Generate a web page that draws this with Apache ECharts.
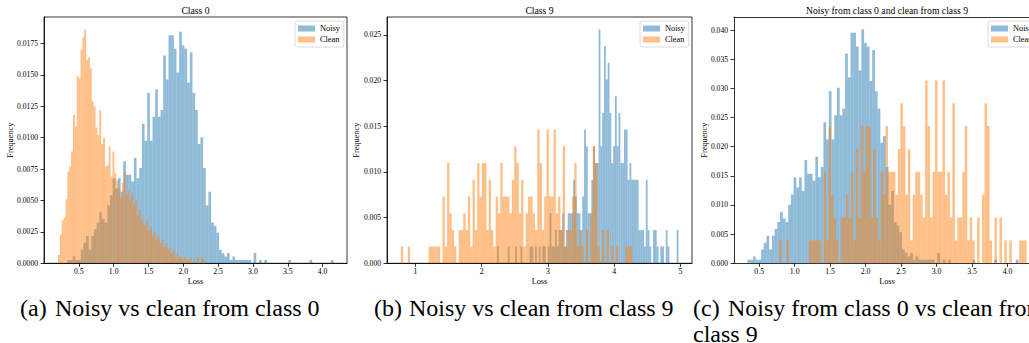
<!DOCTYPE html>
<html><head><meta charset="utf-8">
<script src="https://cdn.jsdelivr.net/npm/echarts@6/dist/echarts.min.js"></script>
<style>html,body{margin:0;padding:0;background:#fff}#c{width:1029px;height:343px}</style>
</head><body><div id="c"></div>
<script>
// ---------------- data ----------------
// Noisy samples of class 0 (counts per bin) – used in panels (a) and (c)
const noisy0Start = 0.336, noisy0Width = 0.0382;
const noisy0Counts = [1,1,2,1,1,4,6,8,4,8,
 10,12,15,13,12,17,20,25,22,25,
 21,30,26,26,24,31,25,28,41,36,
 50,36,43,51,43,45,61,54,67,67,
 63,56,68,64,63,53,62,50,45,35,
 37,28,17,21,12,11,9,4,3,2,
 3,1,2,1,1,1,1,1,1,0,
 3,0,1,0,1,0,0,0,0,0,
 0,0,0,1,0,0,0,0,0,0,
 0,1,0,0,0,0,0,0,0,1];
const noisy0WeightA = 0.000271, noisy0WeightC = 0.00059;

// Clean samples of class 0 (frequency per bin) – panel (a)
const clean0Start = 0.2, clean0Width = 0.027;
const clean0Freq = [0.00066,0.00225,0.0034,0.0036,0.0051,0.0073,0.0077,0.0089,0.0118,0.0109,
 0.0149,0.0147,0.0170,0.0180,0.0186,0.0162,0.0164,0.0155,0.0129,0.0125,
 0.0108,0.0102,0.0122,0.0095,0.0100,0.0077,0.0078,0.0093,0.0069,0.0089,
 0.0072,0.0066,0.0060,0.0052,0.0064,0.0072,0.0055,0.0058,0.0050,0.0056,
 0.0047,0.0050,0.0038,0.0043,0.0035,0.0032,0.0030,0.0034,0.0026,0.0029,
 0.0022,0.0025,0.0019,0.0022,0.0016,0.0019,0.0013,0.0016,0.0011,0.0013,
 0.0008,0.0011,0.0005,0.0008,0.0005,0.0005,0.0003,0.0005,0.0003,0.0003,
 0.0005,0,0.0003,0,0.0005,0,0.0005,0.0003];

// Noisy samples of class 9 (counts per bin) – panel (b)
const noisy9Start = 2.23, noisy9Width = 0.0274;
const noisy9Counts = [1,0,0,0,0,0,1,0,0,0,
 1,0,0,1,0,0,0,0,1,1,
 0,1,0,1,0,1,1,0,1,3,
 1,1,2,1,2,2,3,1,2,3,
 3,3,5,4,3,3,2,4,8,7,
 3,3,5,7,6,6,14,7,9,13,
 11,12,9,6,7,10,7,9,6,6,
 8,8,5,6,5,5,5,5,2,2,
 2,1,5,2,1,0,2,2,1,0,
 1,1,0,2,1,0,0,0,0,2];
const noisy9WeightB = 0.00183;

// Clean samples of class 9 (counts per bin) – panels (b) and (c)
const clean9Start = 0.78, clean9Width = 0.0349;
const clean9Counts = [1,0,0,1,0,0,0,0,0,0,
 0,0,1,1,1,1,1,0,4,1,
 6,3,2,1,0,2,2,3,2,4,
 1,5,2,6,4,6,6,2,5,2,
 1,4,3,6,4,4,4,3,5,7,
 6,3,5,1,3,4,4,3,2,8,
 6,2,4,8,4,4,8,3,4,2,
 7,1,2,2,4,6,1,2,1,0,
 2,0,3,7,6,1,0,2,0,2,
 0,1,0,1,0,0,0,1,1,1];
const clean9WeightB = 0.00183, clean9WeightC = 0.00392;

// ticks and texts
const xTicksA = [0.5,1.0,1.5,2.0,2.5,3.0,3.5,4.0];
const yTicksA = [0,0.0025,0.005,0.0075,0.01,0.0125,0.015,0.0175];
const xTicksB = [1,2,3,4,5];
const yTicksB = [0,0.005,0.01,0.015,0.02,0.025];
const xTicksC = [0.5,1.0,1.5,2.0,2.5,3.0,3.5,4.0];
const yTicksC = [0,0.005,0.01,0.015,0.02,0.025,0.03,0.035,0.04];
const titles = ['Class 0','Class 9','Noisy from class 0 and clean from class 9'];
const seriesNames = ['Noisy','Clean'];
const xName = 'Loss', yName = 'Frequency';
const captionLabels = ['(a)','(b)','(c)'];
const captionTexts = ['Noisy vs clean from class 0','Noisy vs clean from class 9','Noisy from class 0 vs clean from'];
const captionLine2 = 'class 9';

// ---------------- helpers ----------------
const FONT = 'Liberation Serif, Times New Roman, DejaVu Serif, serif';
const BLUE = 'rgba(31,119,180,0.5)', ORANGE = 'rgba(255,127,14,0.5)';
function bins(start, width, heights){
  const out = [];
  heights.forEach((h,i)=>{ if(h>0) out.push([start+i*width, start+(i+1)*width, h]); });
  return out;
}
const scale = (arr,w)=>arr.map(c=>c*w);

// panel (c) axes run past the right edge of the page: show only its visible part
const layout = [
 {left:44, top:17, width:303, height:246.3, xMin:0, xMax:4.35, yMax:0.0196, xDec:1, yDec:4, xT:xTicksA, yT:yTicksA, yLab:34, box:true},
 {left:387, top:17, width:305, height:246.3, xMin:0.571, xMax:5.174, yMax:0.02697, xDec:0, yDec:3, xT:xTicksB, yT:yTicksB, yLab:30.3, box:true},
 {left:734, top:17, width:295, height:246.3, xMin:0.145, xMax:4.303, yMax:0.04223, xDec:1, yDec:3, xT:xTicksC, yT:yTicksC, yLab:30, box:false, fullWidth:306}
];
const panelData = [
 [bins(noisy0Start,noisy0Width,scale(noisy0Counts,noisy0WeightA)), bins(clean0Start,clean0Width,clean0Freq)],
 [bins(noisy9Start,noisy9Width,scale(noisy9Counts,noisy9WeightB)), bins(clean9Start,clean9Width,scale(clean9Counts,clean9WeightB))],
 [bins(noisy0Start,noisy0Width,scale(noisy0Counts,noisy0WeightC)), bins(clean9Start,clean9Width,scale(clean9Counts,clean9WeightC))]
];

function renderItem(params, api){
  const a = api.coord([api.value(0), 0]);
  const b = api.coord([api.value(1), api.value(2)]);
  return {type:'rect', shape:{x:a[0], y:b[1], width:b[0]-a[0], height:a[1]-b[1]},
          style:{fill: api.visual('color')}};
}

const grid=[], xAxis=[], yAxis=[], series=[], legend=[], graphic=[];
const lineStyle = {color:'#000', width:0.8};
layout.forEach((p,k)=>{
  grid.push({left:p.left, top:p.top, width:p.width, height:p.height, show:p.box,
             borderColor:'#000', borderWidth:0.8, backgroundColor:'transparent', containLabel:false});
  xAxis.push({type:'value', gridIndex:k, min:p.xMin, max:p.xMax,
    axisLine:{show:true, onZero:false, lineStyle},
    axisTick:{show:true, length:3.5, lineStyle, customValues:p.xT},
    axisLabel:{customValues:p.xT, margin:4.5, color:'#000', fontFamily:FONT, fontSize:7.8,
               formatter:v=>Number(v).toFixed(p.xDec)},
    splitLine:{show:false}});
  yAxis.push({type:'value', gridIndex:k, min:0, max:p.yMax,
    axisLine:{show:true, onZero:false, lineStyle},
    axisTick:{show:true, length:3.5, lineStyle, customValues:p.yT},
    axisLabel:{customValues:p.yT, margin:6, color:'#000', fontFamily:FONT, fontSize:7.6,
               formatter:v=>Number(v).toFixed(p.yDec)},
    splitLine:{show:false}});
  panelData[k].forEach((d,j)=>{
    series.push({type:'custom', name:seriesNames[j], xAxisIndex:k, yAxisIndex:k, clip:true,
      renderItem, data:d, encode:{x:[0,1], y:2}, itemStyle:{color: j===0?BLUE:ORANGE},
      silent:true, animation:false});
  });
  const fullW = p.fullWidth || p.width;
  legend.push({left:p.left+fullW-52, top:p.top+4, orient:'vertical', selectedMode:false,
    data:seriesNames, icon:'rect', itemWidth:17, itemHeight:6, itemGap:1,
    padding:[2.5,4,2.5,3], borderColor:'#d0d0d0', borderWidth:0.8, borderRadius:2,
    backgroundColor:'rgba(255,255,255,0.8)',
    textStyle:{fontFamily:FONT, fontSize:8.3, color:'#000', lineHeight:10}});
  const cx = p.left + fullW/2;
  graphic.push({type:'text', x:cx, y:10, style:{text:titles[k], font:'9.7px '+FONT, fill:'#000', align:'center', verticalAlign:'middle'}});
  graphic.push({type:'text', x:cx, y:281, style:{text:xName, font:'8.3px '+FONT, fill:'#000', align:'center', verticalAlign:'middle'}});
  graphic.push({type:'text', x:p.left-p.yLab, y:p.top+p.height/2, rotation:Math.PI/2,
    style:{text:yName, font:'8.3px '+FONT, fill:'#000', align:'center', verticalAlign:'middle'}});
});
// top spine of panel (c) (its right spine is beyond the page)
xAxis.push({type:'value', gridIndex:2, position:'top', min:layout[2].xMin, max:layout[2].xMax,
  axisLine:{show:true, onZero:false, lineStyle}, axisTick:{show:false}, axisLabel:{show:false}, splitLine:{show:false}});

const capX = [20, 374, 693], capTextX = [55, 409, 728];
captionLabels.forEach((t,k)=>{
  graphic.push({type:'text', x:capX[k], y:308, style:{text:t, font:'24px '+FONT, fill:'#000', align:'left', verticalAlign:'middle'}});
  graphic.push({type:'text', x:capTextX[k], y:308, style:{text:captionTexts[k], font:'24px '+FONT, fill:'#000', align:'left', verticalAlign:'middle'}});
});
graphic.push({type:'text', x:693, y:334, style:{text:captionLine2, font:'24px '+FONT, fill:'#000', align:'left', verticalAlign:'middle'}});

const chart = echarts.init(document.getElementById('c'), null, {renderer:'svg', width:1029, height:343});
chart.setOption({animation:false, backgroundColor:'#fff', grid, xAxis, yAxis, series, legend, graphic});
</script></body></html>
